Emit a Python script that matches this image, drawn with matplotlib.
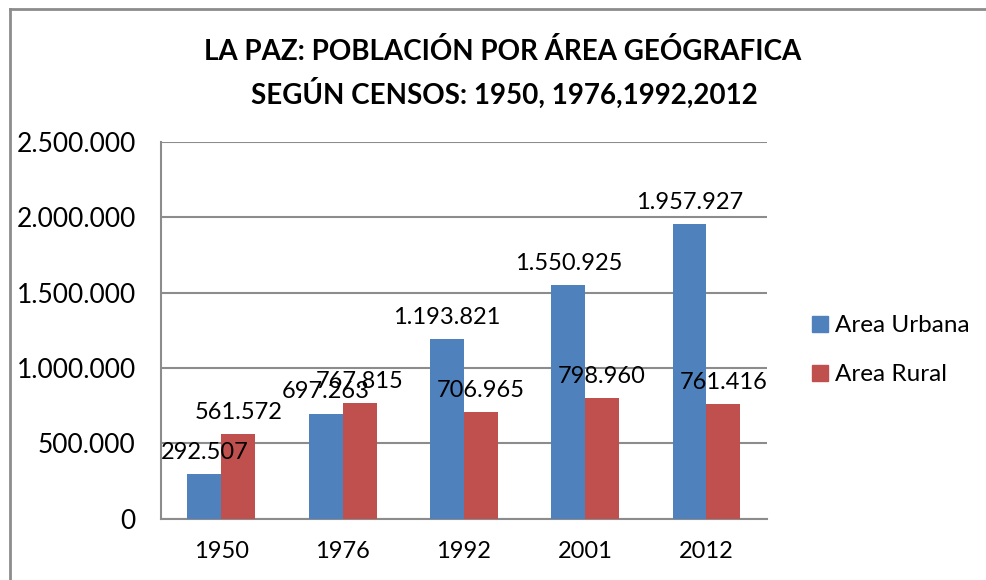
import matplotlib.pyplot as plt
import numpy as np
from matplotlib.lines import Line2D
from matplotlib.ticker import FuncFormatter

plt.rcParams['font.family'] = ['Lato', 'DejaVu Sans']

years = ['1950', '1976', '1992', '2001', '2012']
urbana = [292507, 697263, 1193821, 1550925, 1957927]
rural = [561572, 767815, 706965, 798960, 761416]
series_names = ['Area Urbana', 'Area Rural']

BLUE = '#4F81BD'
RED = '#C0504D'
GRID = '#8c8c8c'


def miles(v):
    # 1234567 -> 1.234.567
    return f'{int(v):,}'.replace(',', '.')


fig = plt.figure(figsize=(9.86, 5.8), dpi=100)
ax = fig.add_axes([0.163, 0.106, 0.615, 0.649])

x = np.arange(len(years))
w = 0.28
b1 = ax.bar(x - w / 2, urbana, w, color=BLUE, label=series_names[0], zorder=3)
b2 = ax.bar(x + w / 2, rural, w, color=RED, label=series_names[1], zorder=3)

# etiquetas de datos
for bars, vals in ((b1, urbana), (b2, rural)):
    for r, v in zip(bars, vals):
        ax.annotate(miles(v), xy=(r.get_x() + r.get_width() / 2, v),
                    xytext=(0, 8), textcoords='offset points',
                    ha='center', va='bottom', fontsize=17, zorder=4)

ax.set_xlim(-0.5, len(years) - 0.5)
ax.set_ylim(0, 2500000)
ax.set_yticks(np.arange(0, 2500001, 500000))
ax.yaxis.set_major_formatter(FuncFormatter(lambda v, p: miles(v)))
ax.set_xticks(x)
ax.set_xticklabels(years)
ax.tick_params(axis='both', length=0, labelsize=17)
ax.tick_params(axis='y', labelsize=19, pad=18)
ax.tick_params(axis='x', pad=16)

ax.grid(axis='y', color=GRID, linewidth=1.5, zorder=0)
for s in ['top', 'right']:
    ax.spines[s].set_visible(False)
for s in ['left', 'bottom']:
    ax.spines[s].set_color(GRID)
    ax.spines[s].set_linewidth(1.5)

# leyenda
handles = [Line2D([], [], marker='s', linestyle='none', markersize=11,
                  markerfacecolor=c, markeredgecolor=c) for c in (BLUE, RED)]
fig.legend(handles, series_names, loc='center left',
           bbox_to_anchor=(0.800, 0.396), frameon=False, fontsize=17.5,
           handletextpad=0.2, labelspacing=1.15, handlelength=0.8)

# titulo
fig.text(0.51, 0.912, 'LA PAZ: POBLACIÓN POR ÁREA GEÓGRAFICA',
         ha='center', va='center', fontsize=20, fontweight='bold')
fig.text(0.512, 0.84, 'SEGÚN CENSOS: 1950, 1976,1992,2012',
         ha='center', va='center', fontsize=20, fontweight='bold')

# borde del grafico
fig.add_artist(Line2D([0.0105, 0.0105], [0, 0.984], color=GRID, linewidth=2))
fig.add_artist(Line2D([0.0105, 1], [0.984, 0.984], color=GRID, linewidth=2))

plt.savefig('out.png', dpi=100)
